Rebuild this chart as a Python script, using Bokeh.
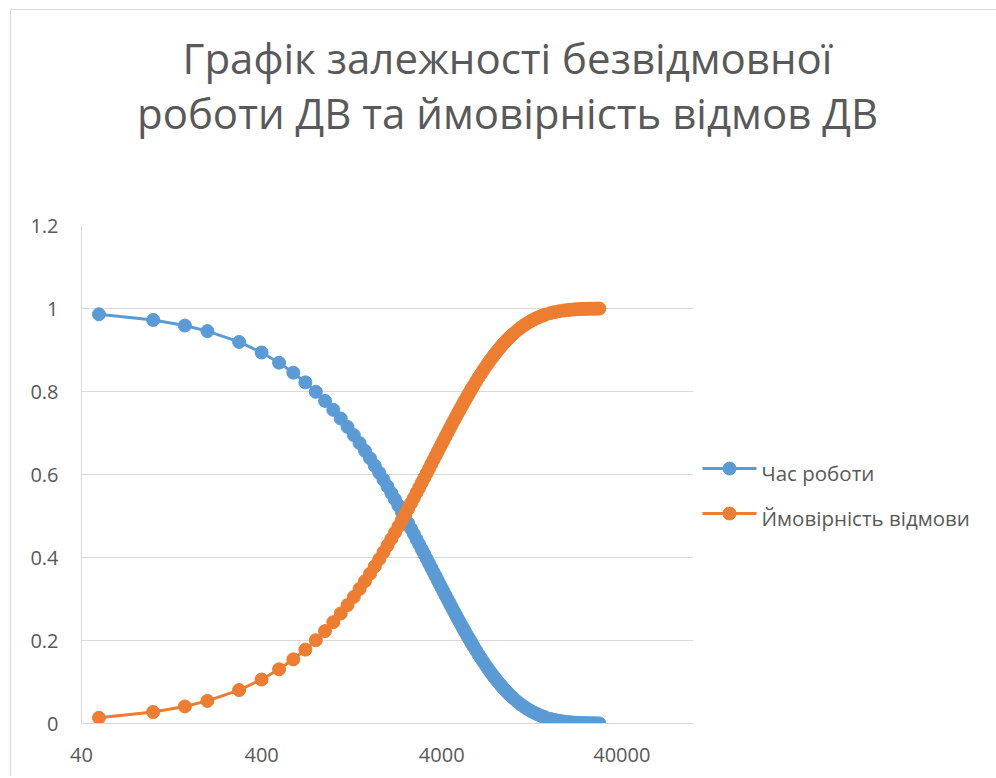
from bokeh.plotting import figure
from bokeh.models import FixedTicker, ColumnDataSource, Range1d
from bokeh.layouts import column, row
from bokeh.embed import file_html
from bokeh.resources import INLINE
from bokeh.core.properties import value

title_lines = ["Графік залежності безвідмовної", "роботи ДВ та ймовірність відмов ДВ"]
series_names = ["Час роботи", "Ймовірність відмови"]

hours = [
    50, 100, 150, 200,
    300, 400, 500, 600, 700, 800, 900, 1000,
    1100, 1200, 1300, 1400, 1500, 1600, 1700, 1800, 1900, 2000,
    2100, 2200, 2300, 2400, 2500, 2600, 2700, 2800, 2900, 3000,
    3100, 3200, 3300, 3400, 3500, 3600, 3700, 3800, 3900, 4000,
    4100, 4200, 4300, 4400, 4500, 4600, 4700, 4800, 4900, 5000,
    5100, 5200, 5300, 5400, 5500, 5600, 5700, 5800, 5900, 6000,
    6200, 6400, 6600, 6800, 7000, 7200, 7400, 7600, 7800, 8000,
    8200, 8400, 8600, 8800, 9000, 9200, 9400, 9600, 9800, 10000,
    10500, 11000, 11500, 12000, 12500, 13000, 13500, 14000, 14500, 15000,
    16000, 17000, 18000, 19000, 20000, 21000, 22000, 23000, 24000, 25000,
    26000, 27000, 28000, 29000, 30000,
]

reliability = [
    0.9861, 0.9724, 0.9589, 0.9455,
    0.9194, 0.8940, 0.8694, 0.8454, 0.8220, 0.7993, 0.7773, 0.7558,
    0.7349, 0.7146, 0.6949, 0.6757, 0.6570, 0.6389, 0.6213, 0.6041, 0.5874, 0.5712,
    0.5554, 0.5401, 0.5252, 0.5107, 0.4966, 0.4829, 0.4695, 0.4566, 0.4440, 0.4317,
    0.4198, 0.4082, 0.3969, 0.3860, 0.3753, 0.3649, 0.3549, 0.3451, 0.3355, 0.3263,
    0.3173, 0.3085, 0.3000, 0.2917, 0.2837, 0.2758, 0.2682, 0.2608, 0.2536, 0.2466,
    0.2398, 0.2332, 0.2267, 0.2205, 0.2144, 0.2085, 0.2027, 0.1971, 0.1917, 0.1864,
    0.1762, 0.1666, 0.1576, 0.1490, 0.1409, 0.1332, 0.1259, 0.1191, 0.1126, 0.1065,
    0.1007, 0.0952, 0.0900, 0.0851, 0.0805, 0.0761, 0.0719, 0.0680, 0.0643, 0.0608,
    0.0529, 0.0460, 0.0400, 0.0347, 0.0302, 0.0263, 0.0228, 0.0198, 0.0172, 0.0150,
    0.0113, 0.0086, 0.0065, 0.0049, 0.0037, 0.0028, 0.0021, 0.0016, 0.0012, 0.0009,
    0.0007, 0.0005, 0.0004, 0.0003, 0.0002,
]

failure = [
    0.0139, 0.0276, 0.0411, 0.0545,
    0.0806, 0.1060, 0.1306, 0.1546, 0.1780, 0.2007, 0.2227, 0.2442,
    0.2651, 0.2854, 0.3051, 0.3243, 0.3430, 0.3611, 0.3787, 0.3959, 0.4126, 0.4288,
    0.4446, 0.4599, 0.4748, 0.4893, 0.5034, 0.5171, 0.5305, 0.5434, 0.5560, 0.5683,
    0.5802, 0.5918, 0.6031, 0.6140, 0.6247, 0.6351, 0.6451, 0.6549, 0.6645, 0.6737,
    0.6827, 0.6915, 0.7000, 0.7083, 0.7163, 0.7242, 0.7318, 0.7392, 0.7464, 0.7534,
    0.7602, 0.7668, 0.7733, 0.7795, 0.7856, 0.7915, 0.7973, 0.8029, 0.8083, 0.8136,
    0.8238, 0.8334, 0.8424, 0.8510, 0.8591, 0.8668, 0.8741, 0.8809, 0.8874, 0.8935,
    0.8993, 0.9048, 0.9100, 0.9149, 0.9195, 0.9239, 0.9281, 0.9320, 0.9357, 0.9392,
    0.9471, 0.9540, 0.9600, 0.9653, 0.9698, 0.9737, 0.9772, 0.9802, 0.9828, 0.9850,
    0.9887, 0.9914, 0.9935, 0.9951, 0.9963, 0.9972, 0.9979, 0.9984, 0.9988, 0.9991,
    0.9993, 0.9995, 0.9996, 0.9997, 0.9998,
]

x_ticks = [40, 400, 4000, 40000]
x_tick_labels = ["40", "400", "4000", "40000"]
y_ticks = [0, 0.2, 0.4, 0.6, 0.8, 1.0, 1.2]
y_tick_labels = ["0", "0.2", "0.4", "0.6", "0.8", "1", "1.2"]
x_limits = [40, 100000]
y_limits = [0, 1.2]

BLUE = "#5B9BD5"
ORANGE = "#ED7D31"
GRAY_TXT = "#595959"
GRID = "#d9d9d9"
FONT = "Open Sans"

W = 985            # total canvas width
TH = 190           # title strip height
MW, MH = 688, 576  # main chart size
LW = W - MW        # legend strip width
MT, MB = 25, 53    # main chart top / bottom borders


def blank(width, height, y0=0, y1=None):
    if y1 is None:
        y1 = height
    f = figure(width=width, height=height, x_range=Range1d(0, width),
               y_range=Range1d(y1, y0), output_backend="svg", title=None,
               toolbar_location=None, x_axis_location=None, y_axis_location=None,
               min_border=0, min_border_left=0, min_border_right=0,
               min_border_top=0, min_border_bottom=0)
    f.grid.visible = False
    f.outline_line_color = None
    f.background_fill_color = "white"
    f.border_fill_color = "white"
    return f


# ---- title strip
tf = blank(W, TH)
tf.text(x=[496, 496], y=[47, 102], text=title_lines, text_align="center",
        text_baseline="alphabetic", text_font=value(FONT), text_font_size="42px",
        text_color=GRAY_TXT)

# ---- main chart
p = figure(width=MW, height=MH, x_axis_type="log",
           x_range=Range1d(*x_limits), y_range=Range1d(*y_limits),
           output_backend="svg", toolbar_location=None,
           min_border_left=70, min_border_right=6,
           min_border_top=MT, min_border_bottom=MB)
p.outline_line_color = None
p.background_fill_color = "white"
p.border_fill_color = "white"

src = ColumnDataSource(dict(t=hours, r=reliability, f=failure))
p.line("t", "r", source=src, line_color=BLUE, line_width=3)
p.scatter("t", "r", source=src, size=13, fill_color=BLUE, line_color=BLUE)
p.line("t", "f", source=src, line_color=ORANGE, line_width=3)
p.scatter("t", "f", source=src, size=13, fill_color=ORANGE, line_color=ORANGE)

p.xgrid.grid_line_color = None
p.ygrid.grid_line_color = GRID
p.ygrid.grid_line_width = 1

xa = p.xaxis[0]
xa.ticker = FixedTicker(ticks=x_ticks, minor_ticks=[])
xa.major_label_overrides = {t: s for t, s in zip(x_ticks, x_tick_labels)}
ya = p.yaxis[0]
ya.ticker = FixedTicker(ticks=y_ticks, minor_ticks=[])
ya.major_label_overrides = {t: s for t, s in zip(y_ticks, y_tick_labels)}
for ax in (xa, ya):
    ax.axis_line_color = GRID
    ax.axis_line_width = 1
    ax.major_tick_line_color = None
    ax.minor_tick_line_color = None
    ax.major_tick_out = 0
    ax.major_tick_in = 0
    ax.minor_tick_out = 0
    ax.major_label_text_font = FONT
    ax.major_label_text_font_size = "20px"
    ax.major_label_text_color = GRAY_TXT
xa.major_label_standoff = 24
ya.major_label_standoff = 23

# ---- legend strip (its frame is aligned with the main chart's frame)
lf = blank(LW, MH, y0=MT, y1=MH - MB)
rows_y = [268, 313]
lf.segment(x0=[3, 3], y0=rows_y, x1=[57, 57], y1=rows_y,
           line_color=[BLUE, ORANGE], line_width=3)
lf.scatter(x=[30, 30], y=rows_y, size=13, fill_color=[BLUE, ORANGE],
           line_color=[BLUE, ORANGE])
lf.text(x=[62, 62], y=[r + 4 for r in rows_y], text=series_names,
        text_align="left", text_baseline="alphabetic", text_font=value(FONT),
        text_font_size="20.5px", text_color=GRAY_TXT)

layout = column(tf, row(p, lf, spacing=0), spacing=0)
layout.styles = {"margin-left": "10px", "margin-top": "9px",
                 "border-left": "1px solid #d9d9d9", "border-top": "1px solid #d9d9d9"}

open("out.html", "w").write(file_html(layout, INLINE))
